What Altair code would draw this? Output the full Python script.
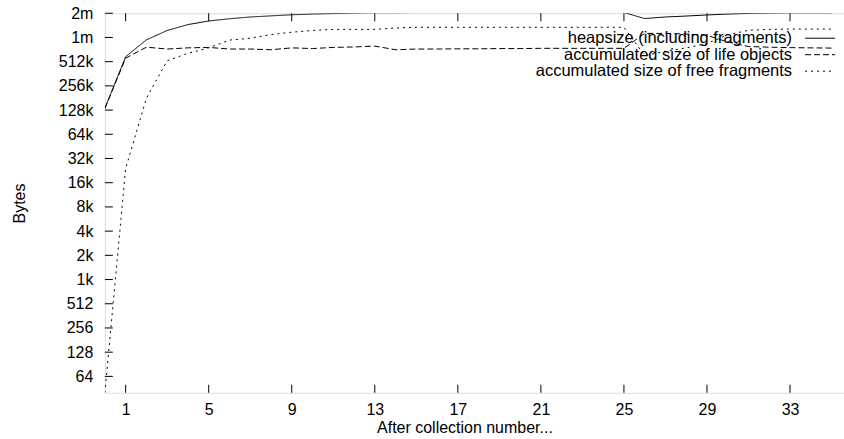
import altair as alt
import pandas as pd

K = 1024
M = 1024 * 1024

collections = list(range(0, 36))

heapsize = [135*K, 590*K, 955*K, 1250*K, 1480*K, 1640*K, 1750*K, 1840*K, 1900*K, 1960*K,
            2000*K, 2030*K, 2060*K, 2080*K, 2080*K, 2090*K, 2090*K, 2090*K, 2090*K, 2090*K,
            2090*K, 2090*K, 2090*K, 2090*K, 2090*K, 2090*K, 1760*K, 1840*K, 1890*K, 1950*K,
            2000*K, 2040*K, 2060*K, 2070*K, 2070*K, 2070*K]
life = [134*K, 566*K, 775*K, 735*K, 760*K, 770*K, 735*K, 735*K, 720*K, 760*K,
        745*K, 770*K, 780*K, 800*K, 720*K, 735*K, 735*K, 740*K, 740*K, 745*K,
        745*K, 750*K, 750*K, 750*K, 750*K, 750*K, 1150*K, 1150*K, 1130*K, 1090*K,
        900*K, 790*K, 775*K, 765*K, 760*K, 755*K]
free = [40, 24*K, 180*K, 525*K, 650*K, 760*K, 950*K, 1000*K, 1110*K, 1190*K,
        1250*K, 1290*K, 1290*K, 1290*K, 1340*K, 1370*K, 1370*K, 1370*K, 1370*K, 1370*K,
        1370*K, 1370*K, 1370*K, 1370*K, 1370*K, 1370*K, 610*K, 690*K, 760*K, 860*K,
        1100*K, 1260*K, 1290*K, 1300*K, 1300*K, 1300*K]

series_names = ["heapsize (including fragments)",
                "accumulated size of life objects",
                "accumulated size of free fragments"]
dashes = [[1, 0], [6, 3], [2, 4]]

y_ticks = [2 ** k for k in range(6, 22)]
x_ticks = [1, 5, 9, 13, 17, 21, 25, 29, 33]

FONT = "Liberation Sans"
FS = 16
W, H = 740, 380
YDOM = [40, 2 ** 21]
XDOM = [0, 35.6]

xs = alt.Scale(domain=XDOM, nice=False, zero=False)
ys = alt.Scale(type="log", base=2, domain=YDOM, nice=False)
dash_scale = alt.Scale(domain=series_names, range=dashes)

x_axis = alt.Axis(
    values=x_ticks, title="After collection number...", tickSize=0, domain=False,
    grid=False, labelPadding=9, titlePadding=2, titleX=360, labelFont=FONT,
    titleFont=FONT, labelFontSize=FS, titleFontSize=FS, titleFontWeight="normal",
    labelColor="black", titleColor="black")
y_axis = alt.Axis(
    values=y_ticks, title="Bytes", tickSize=0, domain=False, grid=False,
    labelPadding=12, titlePadding=31, labelFont=FONT, titleFont=FONT,
    labelFontSize=FS, titleFontSize=FS, titleFontWeight="normal",
    labelColor="black", titleColor="black",
    labelExpr="datum.value >= 1048576 ? round(datum.value/1048576) + 'm' : (datum.value >= 1024 ? round(datum.value/1024) + 'k' : round(datum.value))")


def series_chart(name, vals):
    d = pd.DataFrame({"n": collections, "bytes": vals, "series": name})
    return alt.Chart(d).mark_line(color="black", strokeWidth=1, clip=True).encode(
        x=alt.X("n:Q", scale=xs, axis=x_axis),
        y=alt.Y("bytes:Q", scale=ys, axis=y_axis),
        strokeDash=alt.StrokeDash("series:N", scale=dash_scale, legend=None),
    )


heap_line = series_chart(series_names[0], heapsize)
life_line = series_chart(series_names[1], life)
free_line = series_chart(series_names[2], free)

ytick_df = pd.DataFrame({"v": y_ticks})
xtick_df = pd.DataFrame({"v": x_ticks})

ytick_marks = alt.Chart(ytick_df).mark_rule(color="black", strokeWidth=1).encode(
    y=alt.Y("v:Q", scale=ys), x=alt.value(0), x2=alt.value(8))
xtick_bottom = alt.Chart(xtick_df).mark_rule(color="black", strokeWidth=1).encode(
    x=alt.X("v:Q", scale=xs), y=alt.value(H - 8), y2=alt.value(H))
xtick_top = alt.Chart(xtick_df).mark_rule(color="black", strokeWidth=1).encode(
    x=alt.X("v:Q", scale=xs), y=alt.value(0), y2=alt.value(8))

leg_df = pd.DataFrame({"series": series_names})
leg_y = alt.Y("series:N", sort=series_names,
              scale=alt.Scale(type="point", domain=series_names, range=[25, 58], padding=0),
              axis=None)
leg_text = alt.Chart(leg_df).mark_text(align="right", baseline="middle", font=FONT,
                                       fontSize=16.5, color="black").encode(
    y=leg_y, x=alt.value(688), text="series:N")
leg_line = alt.Chart(leg_df).mark_rule(color="black", strokeWidth=1).encode(
    y=leg_y, x=alt.value(701), x2=alt.value(731),
    strokeDash=alt.StrokeDash("series:N", scale=dash_scale, legend=None))

main = alt.layer(heap_line, life_line, free_line, ytick_marks, xtick_bottom, xtick_top)
legend = alt.layer(leg_text, leg_line)

chart = alt.layer(main, legend).resolve_scale(y="independent", strokeDash="shared").properties(
    width=W, height=H,
    autosize=alt.AutoSizeParams(type="none"),
    padding={"left": 105, "top": 13, "right": 0, "bottom": 46},
).configure_view(stroke="black", strokeWidth=1.5).configure(background="white")

chart.save("out.html", embed_options={"renderer": "svg", "actions": False})
